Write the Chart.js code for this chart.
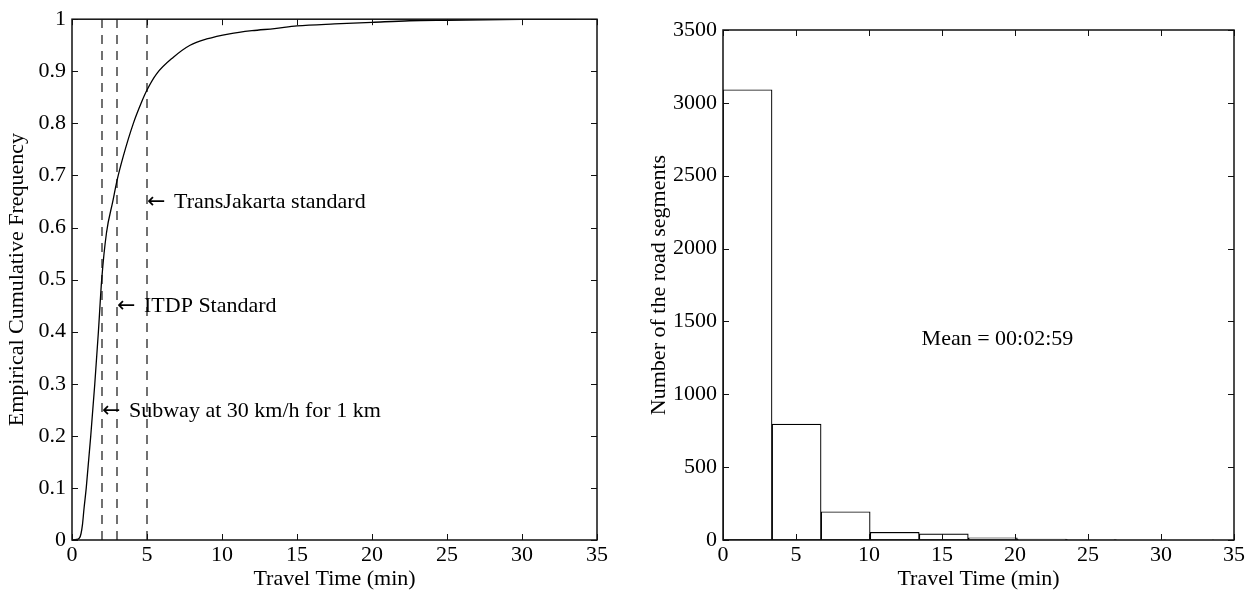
<!DOCTYPE html>
<html>
<head>
<meta charset="utf-8">
<script src="https://cdn.jsdelivr.net/npm/chart.js@4.4.1/dist/chart.umd.min.js"></script>
<style>
  html, body { margin: 0; padding: 0; background: #fff; }
  #wrap { position: relative; width: 1258px; height: 597px; }
  #cdfBox { position: absolute; left: 0; top: 0; width: 640px; height: 597px; }
  #histBox { position: absolute; left: 640px; top: 0; width: 618px; height: 597px; }
</style>
</head>
<body>
<div id="wrap">
  <div id="cdfBox"><canvas id="cdfChart"></canvas></div>
  <div id="histBox"><canvas id="histChart"></canvas></div>
</div>
<script>
// --- dados ---
// curva acumulada (tempo em min, frequência acumulada)
const cdfTimes = [0, 0.3, 0.5, 0.6, 0.7, 0.8, 0.95, 1.25, 1.52, 1.76, 1.98, 2.3, 2.72, 3.0, 3.42, 4.09, 4.64, 5.0, 5.64, 6.76, 7.87, 8.98, 10.5, 12, 13.5, 15, 17.5, 20, 22.5, 25, 30, 33.6];
const cdfValues = [0, 0.001, 0.004, 0.012, 0.03, 0.06, 0.1, 0.2, 0.3, 0.4, 0.5, 0.59, 0.65, 0.69, 0.737, 0.8, 0.841, 0.864, 0.895, 0.927, 0.95, 0.962, 0.972, 0.978, 0.982, 0.987, 0.991, 0.994, 0.997, 0.998, 0.9995, 1];

// linhas tracejadas de referência e seus rótulos
const refLines = [2, 3, 5];
const refLabels = ['Subway at 30 km/h for 1 km', 'ITDP Standard', 'TransJakarta standard'];
const refLabelY = [0.248, 0.448, 0.648];

// histograma: limites das classes e contagens
const binEdges = [0, 3.36, 6.72, 10.08, 13.44, 16.8, 20.16, 23.52, 26.88, 30.24, 33.6];
const binCounts = [3090, 795, 194, 53, 42, 15, 6, 3, 2, 1];
const meanLabel = 'Mean = 00:02:59';

const xTicks = [0, 5, 10, 15, 20, 25, 30, 35];

const FONT = 'Liberation Serif, Times New Roman, serif';
const FSIZE = 22;

// marcas de escala para dentro, nos quatro lados, e a moldura (estilo MATLAB)
const matlabFrame = {
  id: 'matlabFrame',
  afterDatasetsDraw(chart) {
    const { ctx, chartArea: a, scales } = chart;
    const len = 6;
    ctx.save();
    ctx.strokeStyle = '#111';
    ctx.lineWidth = 1;
    ctx.beginPath();
    scales.x.ticks.forEach(t => {
      const px = Math.round(scales.x.getPixelForValue(t.value)) + 0.5;
      ctx.moveTo(px, a.bottom); ctx.lineTo(px, a.bottom - len);
      ctx.moveTo(px, a.top); ctx.lineTo(px, a.top + len);
    });
    scales.y.ticks.forEach(t => {
      const py = Math.round(scales.y.getPixelForValue(t.value)) + 0.5;
      ctx.moveTo(a.left, py); ctx.lineTo(a.left + len, py);
      ctx.moveTo(a.right, py); ctx.lineTo(a.right - len, py);
    });
    ctx.stroke();
    ctx.lineWidth = 1.5;
    ctx.strokeRect(a.left, a.top, a.right - a.left, a.bottom - a.top);
    ctx.restore();
  }
};

// textos soltos dentro do gráfico, posicionados pelas escalas
const textNotes = {
  id: 'textNotes',
  afterDatasetsDraw(chart, args, opts) {
    const { ctx, scales } = chart;
    ctx.save();
    ctx.fillStyle = '#000';
    ctx.textBaseline = 'middle';
    (opts.items || []).forEach(it => {
      const px = scales.x.getPixelForValue(it.x);
      const py = scales.y.getPixelForValue(it.y);
      if (it.arrow) {
        ctx.font = FSIZE + 'px DejaVu Sans';
        ctx.textAlign = 'left';
        ctx.fillText('\u2190', px, py);
      }
      ctx.font = FSIZE + 'px ' + FONT;
      ctx.textAlign = it.align || 'left';
      ctx.fillText(it.text, px + (it.dx || 0), py);
    });
    ctx.restore();
  }
};

function axisX(title) {
  return {
    type: 'linear', min: 0, max: 35, offset: false,
    grid: { display: false, drawTicks: false, offset: false },
    border: { display: false },
    afterBuildTicks: s => { s.ticks = xTicks.map(v => ({ value: v })); },
    ticks: { color: '#000', font: { family: FONT, size: FSIZE }, padding: 2, maxRotation: 0, callback: v => String(v) },
    title: { display: true, text: title, color: '#000', font: { family: FONT, size: FSIZE }, padding: { top: 0, bottom: 5 } },
    afterFit: s => { s.height = 57; }
  };
}

Chart.defaults.animation = false;

// gráfico da esquerda: frequência acumulada
new Chart(document.getElementById('cdfChart'), {
  type: 'line',
  data: {
    datasets: [
      {
        data: cdfTimes.map((t, i) => ({ x: t, y: cdfValues[i] })),
        borderColor: '#000', borderWidth: 1.3, pointRadius: 0,
        cubicInterpolationMode: 'monotone', fill: false
      },
      ...refLines.map(x => ({
        data: [{ x: x, y: 0 }, { x: x, y: 1 }],
        borderColor: '#111', borderWidth: 1.2, borderDash: [9, 7], pointRadius: 0, fill: false
      }))
    ]
  },
  options: {
    responsive: true, maintainAspectRatio: false,
    layout: { padding: { left: 4, top: 15, right: 43, bottom: 0 } },
    plugins: {
      legend: { display: false }, tooltip: { enabled: false },
      textNotes: { items: refLines.map((x, i) => ({ x: x, y: refLabelY[i], text: refLabels[i], dx: 27, arrow: true })) }
    },
    scales: {
      x: axisX('Travel Time (min)'),
      y: {
        type: 'linear', min: 0, max: 1,
        grid: { display: false, drawTicks: false },
        border: { display: false },
        ticks: { stepSize: 0.1, color: '#000', font: { family: FONT, size: FSIZE }, padding: 6, callback: v => String(+v.toFixed(1)) },
        title: { display: true, text: 'Empirical Cumulative Frequency', color: '#000', font: { family: FONT, size: FSIZE }, padding: { top: 0, bottom: 0 } },
        afterFit: s => { s.width = 68; }
      }
    }
  },
  plugins: [matlabFrame, textNotes]
});

// gráfico da direita: histograma
const binCenters = binCounts.map((_, i) => (binEdges[i] + binEdges[i + 1]) / 2);

new Chart(document.getElementById('histChart'), {
  type: 'bar',
  data: {
    datasets: [{
      data: binCenters.map((c, i) => ({ x: c, y: binCounts[i] })),
      backgroundColor: '#fff', borderColor: '#000', borderWidth: 1.2,
      borderSkipped: false, barPercentage: 1, categoryPercentage: 1
    }]
  },
  options: {
    responsive: true, maintainAspectRatio: false,
    layout: { padding: { left: 6, top: 30, right: 24, bottom: 0 } },
    plugins: {
      legend: { display: false }, tooltip: { enabled: false },
      textNotes: { items: [{ x: 18.8, y: 1380, text: meanLabel, align: 'center' }] }
    },
    scales: {
      x: axisX('Travel Time (min)'),
      y: {
        type: 'linear', min: 0, max: 3500,
        grid: { display: false, drawTicks: false },
        border: { display: false },
        ticks: { stepSize: 500, color: '#000', font: { family: FONT, size: FSIZE }, padding: 6, callback: v => String(v) },
        title: { display: true, text: 'Number of the road segments', color: '#000', font: { family: FONT, size: FSIZE }, padding: { top: 0, bottom: 0 } },
        afterFit: s => { s.width = 77; }
      }
    }
  },
  plugins: [matlabFrame, textNotes]
});
</script>
</body>
</html>
